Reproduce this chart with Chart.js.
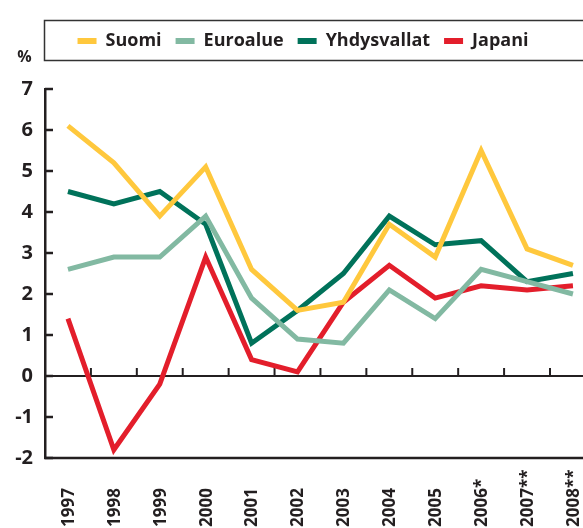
<!DOCTYPE html>
<html>
<head>
<meta charset="utf-8">
<script src="https://cdn.jsdelivr.net/npm/chart.js@4.4.1/dist/chart.umd.min.js"></script>
<style>
  html, body { margin: 0; padding: 0; overflow: hidden; background: #fff; }
  #wrap { position: relative; width: 606px; height: 528px; }
</style>
</head>
<body>
<div id="wrap"><canvas id="myChart"></canvas></div>
<script>
// years on the x axis and the labels printed under them
var years = [1997, 1998, 1999, 2000, 2001, 2002, 2003, 2004, 2005, 2006, 2007, 2008];
var yearLabels = ["1997", "1998", "1999", "2000", "2001", "2002", "2003", "2004", "2005", "2006*", "2007**", "2008**"];

// series, % per year
var suomi = [6.1, 5.2, 3.9, 5.1, 2.6, 1.6, 1.8, 3.7, 2.9, 5.5, 3.1, 2.7];
var euroalue = [2.6, 2.9, 2.9, 3.9, 1.9, 0.9, 0.8, 2.1, 1.4, 2.6, 2.3, 2.0];
var yhdysvallat = [4.5, 4.2, 4.5, 3.7, 0.8, 1.6, 2.5, 3.9, 3.2, 3.3, 2.3, 2.5];
var japani = [1.4, -1.8, -0.2, 2.9, 0.4, 0.1, 1.8, 2.7, 1.9, 2.2, 2.1, 2.2];

var ink = "#231f20";
var font = '"Open Sans", "Noto Sans", sans-serif';

function points(values) {
    return values.map(function (v, i) { return {x: years[i], y: v}; });
}

function serie(label, values, color) {
    return {
        label: label,
        data: points(values),
        borderColor: color,
        backgroundColor: color,
        borderWidth: 5,
        pointRadius: 0,
        tension: 0,
        borderJoinStyle: "miter",
        clip: false
    };
}

function stroke(ctx, x1, y1, x2, y2) {
    ctx.beginPath();
    ctx.moveTo(x1, y1);
    ctx.lineTo(x2, y2);
    ctx.stroke();
}

// axis lines, inward ticks, rotated year labels, % sign and legend frame
var frame = {
    id: "frame",
    beforeDatasetsDraw: function (chart) {
        var ctx = chart.ctx, area = chart.chartArea;
        var x = chart.scales.x, y = chart.scales.y;
        var y0 = y.getPixelForValue(0);
        var yb = y.getPixelForValue(y.min);
        ctx.save();
        ctx.strokeStyle = ink;
        ctx.lineWidth = 2;
        stroke(ctx, area.left, y0, chart.width, y0);
        ctx.lineWidth = 2.5;
        stroke(ctx, area.left - 1, yb, chart.width, yb);
        y.ticks.forEach(function (t) {
            var py = y.getPixelForValue(t.value);
            stroke(ctx, area.left, py, area.left + 8, py);
        });
        ctx.lineWidth = 2;
        for (var i = 0; i < years.length - 1; i++) {
            var px = x.getPixelForValue(years[i] + 0.5);
            stroke(ctx, px, y0, px, y0 - 8);
        }
        ctx.restore();
    },
    afterDraw: function (chart) {
        var ctx = chart.ctx, x = chart.scales.x;
        ctx.save();
        ctx.fillStyle = ink;
        ctx.font = "bold 17px " + font;
        ctx.textAlign = "left";
        ctx.textBaseline = "middle";
        for (var i = 0; i < years.length; i++) {
            ctx.save();
            ctx.translate(x.getPixelForValue(years[i]), 527);
            ctx.rotate(-Math.PI / 2);
            ctx.fillText(yearLabels[i], 0, 1);
            ctx.restore();
        }
        ctx.textAlign = "center";
        ctx.font = "bold 16px " + font;
        ctx.fillText("%", 24.5, 57);
        ctx.strokeStyle = "#333";
        ctx.lineWidth = 1.5;
        ctx.strokeRect(44.5, 20.5, chart.width, 40);
        ctx.restore();
    }
};

var ctx = document.getElementById("myChart");

var myChart = new Chart(ctx, {
    type: "line",
    data: {
        datasets: [
            serie("Suomi", suomi, "#ffc83d"),
            serie("Euroalue", euroalue, "#82b9a2"),
            serie("Yhdysvallat", yhdysvallat, "#00725a"),
            serie("Japani", japani, "#e31e2b")
        ]
    },
    options: {
        responsive: true,
        maintainAspectRatio: false,
        animation: false,
        layout: {padding: {top: 18, left: 0, right: 0, bottom: 0}},
        plugins: {
            tooltip: {enabled: false},
            legend: {
                display: true,
                position: "top",
                labels: {
                    boxWidth: 19,
                    boxHeight: 6,
                    padding: 14,
                    color: ink,
                    font: {family: font, weight: "bold", size: 18},
                    generateLabels: function (chart) {
                        return Chart.defaults.plugins.legend.labels.generateLabels(chart).map(function (l) {
                            l.lineWidth = 0;
                            return l;
                        });
                    }
                }
            },
            // empty spacer between legend and plot
            subtitle: {
                display: true,
                text: " ",
                weight: 500,
                font: {size: 10, lineHeight: 1.2},
                padding: {top: 8, bottom: 9}
            }
        },
        scales: {
            x: {
                type: "linear",
                min: 1996.5,
                max: 2008.72,
                display: true,
                grid: {display: false},
                border: {display: false},
                ticks: {display: false},
                afterFit: function (scale) { scale.height = 70; }
            },
            y: {
                min: -2,
                max: 7,
                grid: {display: false, drawTicks: false},
                border: {display: true, color: ink, width: 2.5},
                ticks: {
                    stepSize: 1,
                    padding: 12,
                    color: ink,
                    font: {family: font, weight: "bold", size: 20}
                },
                afterFit: function (scale) { scale.width = 45; }
            }
        }
    },
    plugins: [frame]
});
</script>
</body>
</html>
